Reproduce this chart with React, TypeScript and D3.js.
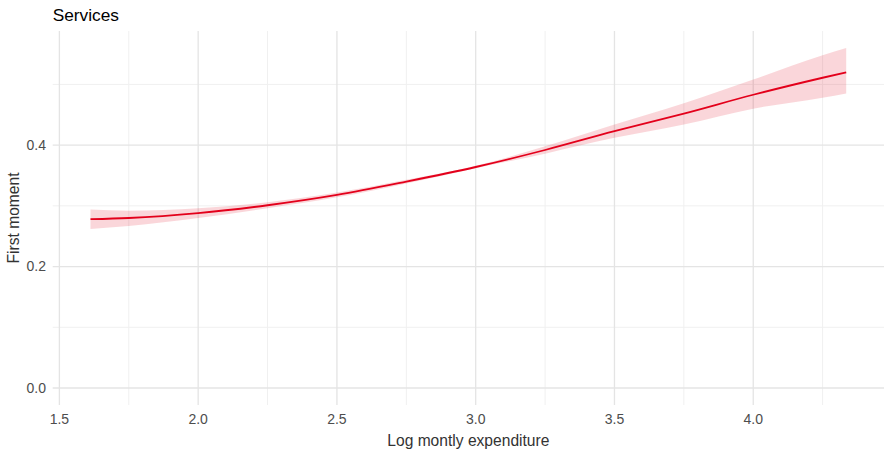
import React from "react";
import * as d3 from "d3";

const xValues = [1.612, 1.75, 2.0, 2.25, 2.5, 2.75, 3.0, 3.25, 3.5, 3.75, 4.0, 4.25, 4.335];
const fitValues = [0.278, 0.280, 0.288, 0.301, 0.318, 0.340, 0.364, 0.392, 0.423, 0.452, 0.483, 0.511, 0.520];
const upperValues = [0.294, 0.292, 0.296, 0.306, 0.322, 0.343, 0.366, 0.398, 0.434, 0.469, 0.508, 0.548, 0.560];
const lowerValues = [0.262, 0.267, 0.280, 0.296, 0.314, 0.337, 0.362, 0.386, 0.412, 0.434, 0.460, 0.478, 0.485];
const xTicks = [1.5, 2.0, 2.5, 3.0, 3.5, 4.0];
const xMinor = [1.75, 2.25, 2.75, 3.25, 3.75, 4.25];
const yTicks = [0.0, 0.2, 0.4];
const yMinor = [0.1, 0.3, 0.5];
const title = "Services";
const xLabel = "Log montly expenditure";
const yLabel = "First moment";

const W = 892;
const H = 452;
const panel = { left: 52.7, right: 884, top: 31, bottom: 405 };

export default function App() {
  const xMin = d3.min(xValues)!;
  const xMax = d3.max(xValues)!;
  const yMin = 0;
  const yMax = d3.max(upperValues)!;
  const xPad = (xMax - xMin) * 0.05;
  const yPad = (yMax - yMin) * 0.05;
  const x = d3.scaleLinear().domain([xMin - xPad, xMax + xPad]).range([panel.left, panel.right]);
  const y = d3.scaleLinear().domain([yMin - yPad, yMax + yPad]).range([panel.bottom, panel.top]);

  const pts = xValues.map((v, i) => ({ x: v, fit: fitValues[i], lo: lowerValues[i], hi: upperValues[i] }));
  const area = d3
    .area<any>()
    .x((d) => x(d.x))
    .y0((d) => y(d.lo))
    .y1((d) => y(d.hi))
    .curve(d3.curveMonotoneX);
  const line = d3
    .line<any>()
    .x((d) => x(d.x))
    .y((d) => y(d.fit))
    .curve(d3.curveMonotoneX);

  const font = "'Liberation Sans', Arial, sans-serif";
  const red = "#E3001B";

  return (
    <svg width={W} height={H} style={{ display: "block", position: "absolute", left: 0, top: 0 }} fontFamily={font}>
      <rect x={0} y={0} width={W} height={H} fill="#fff" />
      {xMinor.map((t) => (
        <line key={"xm" + t} x1={x(t)} x2={x(t)} y1={panel.top} y2={panel.bottom} stroke="#F0F0F0" strokeWidth={1} />
      ))}
      {yMinor.map((t) => (
        <line key={"ym" + t} x1={panel.left} x2={panel.right} y1={y(t)} y2={y(t)} stroke="#F0F0F0" strokeWidth={1} />
      ))}
      {xTicks.map((t) => (
        <line key={"xM" + t} x1={x(t)} x2={x(t)} y1={panel.top} y2={panel.bottom} stroke="#E4E4E4" strokeWidth={1.3} />
      ))}
      {yTicks.map((t) => (
        <line key={"yM" + t} x1={panel.left} x2={panel.right} y1={y(t)} y2={y(t)} stroke="#E4E4E4" strokeWidth={1.3} />
      ))}
      <path d={area(pts) || ""} fill={red} fillOpacity={0.16} />
      <path d={line(pts) || ""} fill="none" stroke={red} strokeWidth={1.8} />
      {xTicks.map((t) => (
        <text key={"xt" + t} x={x(t)} y={424} textAnchor="middle" fontSize={14} fill="#4D4D4D">
          {d3.format(".1f")(t)}
        </text>
      ))}
      {yTicks.map((t) => (
        <text key={"yt" + t} x={46} y={y(t)} dy="0.35em" textAnchor="end" fontSize={14} fill="#4D4D4D">
          {d3.format(".1f")(t)}
        </text>
      ))}
      <text x={(panel.left + panel.right) / 2} y={446} textAnchor="middle" fontSize={15.6} fill="#333">
        {xLabel}
      </text>
      <text
        transform={`translate(19, ${(panel.top + panel.bottom) / 2}) rotate(-90)`}
        textAnchor="middle"
        fontSize={15.6}
        fill="#333"
      >
        {yLabel}
      </text>
      <text x={52.7} y={20.5} fontSize={17.3} fill="#000">
        {title}
      </text>
    </svg>
  );
}
